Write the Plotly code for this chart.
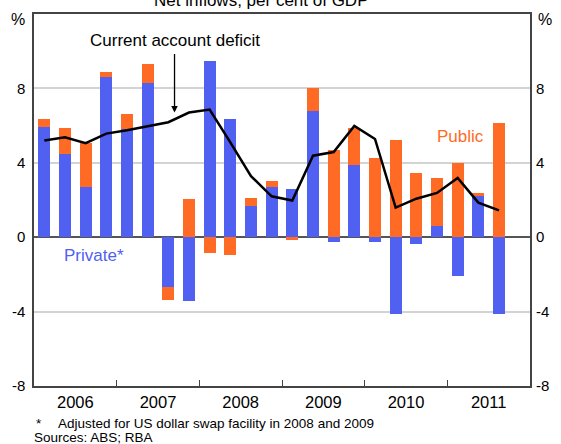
import plotly.graph_objects as go

quarters = ["2006Q1","2006Q2","2006Q3","2006Q4","2007Q1","2007Q2","2007Q3","2007Q4",
            "2008Q1","2008Q2","2008Q3","2008Q4","2009Q1","2009Q2","2009Q3","2009Q4",
            "2010Q1","2010Q2","2010Q3","2010Q4","2011Q1","2011Q2","2011Q3"]
private = [5.9, 4.5, 2.7, 8.6, 5.8, 8.3, -2.7, -3.45, 9.45, 6.35, 1.7, 2.7,
           2.6, 6.8, -0.25, 3.9, -0.25, -4.15, -0.35, 0.6, -2.1, 2.2, -4.15]
public = [0.45, 1.35, 2.35, 0.3, 0.8, 1.0, -0.67, 2.05, -0.85, -0.95, 0.4, 0.3,
          -0.15, 1.2, 4.7, 1.95, 4.25, 5.2, 3.45, 2.6, 4.0, 0.15, 6.15]
cad = [5.2, 5.37, 5.06, 5.57, 5.75, 5.97, 6.18, 6.7, 6.86, 5.1, 3.28, 2.2,
       1.97, 4.38, 4.58, 5.98, 5.28, 1.59, 2.07, 2.38, 3.19, 1.86, 1.44]
years = ["2006", "2007", "2008", "2009", "2010", "2011"]
yticks = [-8, -4, 0, 4, 8]

BLUE = "#5060F0"
ORANGE = "#FF6A24"
FONT = "Liberation Sans, Arial, sans-serif"

L, R, T, B = 34, 536, 14, 386

xpos = [i + 0.5 for i in range(len(quarters))]

fig = go.Figure()
fig.add_trace(go.Bar(x=xpos, y=private, marker_color=BLUE, width=0.57,
                     marker_line_width=0, name="Private*"))
fig.add_trace(go.Bar(x=xpos, y=public, marker_color=ORANGE, width=0.57,
                     marker_line_width=0, name="Public"))
fig.add_trace(go.Scatter(x=xpos, y=cad, mode="lines",
                         line=dict(color="black", width=2.5), name="CAD"))
fig.add_trace(go.Scatter(x=[0], y=[0], yaxis="y2", mode="markers",
                         marker=dict(opacity=0), showlegend=False, hoverinfo="skip"))

fig.update_layout(
    width=561, height=444,
    margin=dict(l=L, r=561 - R, t=T, b=444 - B),
    barmode="relative",
    bargap=0,
    showlegend=False,
    plot_bgcolor="white",
    paper_bgcolor="white",
    font=dict(family=FONT, size=15, color="black"),
    xaxis=dict(
        range=[0, 24],
        tickvals=[2 + 4 * i for i in range(len(years))],
        ticktext=years,
        ticks="", showgrid=False, zeroline=False,
        showline=True, linecolor="#444", linewidth=1.5, mirror=True,
        tickfont=dict(size=16.5),
        minor=dict(tickvals=[4, 8, 12, 16, 20], ticks="inside",
                   ticklen=6, tickcolor="#444", tickwidth=1.2, showgrid=False),
    ),
    yaxis=dict(
        range=[-8, 12],
        tickvals=yticks, ticktext=[str(v) for v in yticks],
        showgrid=True, gridcolor="#D3D3D3", gridwidth=1.5,
        zeroline=True, zerolinecolor="#555", zerolinewidth=2,
        showline=True, linecolor="#444", linewidth=1.5, mirror=True,
        ticks="", tickfont=dict(size=15), ticklabelstandoff=4,
    ),
    yaxis2=dict(
        range=[-8, 12], overlaying="y", side="right",
        tickvals=yticks, ticktext=[str(v) for v in yticks],
        showgrid=False, zeroline=False, showline=False, ticks="",
        tickfont=dict(size=15), ticklabelstandoff=5,
    ),
)

def px_x(px):
    return (px - L) / (R - L)

def px_y(py):
    return (B - py) / (B - T)

anns = [
    dict(text="Net inflows, per cent of GDP", x=px_x(264), y=1, xref="paper", yref="paper",
         xanchor="center", yanchor="bottom", yshift=2, showarrow=False,
         font=dict(size=17)),
    dict(text="%", x=px_x(18), y=px_y(20), xref="paper", yref="paper",
         xanchor="center", yanchor="middle", showarrow=False, font=dict(size=16)),
    dict(text="%", x=px_x(551), y=px_y(20), xref="paper", yref="paper",
         xanchor="center", yanchor="middle", showarrow=False, font=dict(size=16)),
    dict(text="Current account deficit", x=6.8, y=10.58, xref="x", yref="y",
         xanchor="center", yanchor="middle", showarrow=False, font=dict(size=17)),
    dict(text="", x=6.8, y=6.7, xref="x", yref="y", ax=0, ay=-60,
         showarrow=True, arrowhead=2, arrowsize=1, arrowwidth=1.3,
         arrowcolor="black", standoff=0),
    dict(text="Public", x=20.62, y=5.41, xref="x", yref="y",
         xanchor="center", yanchor="middle", showarrow=False,
         font=dict(size=17, color=ORANGE)),
    dict(text="Private*", x=2.9, y=-0.99, xref="x", yref="y",
         xanchor="center", yanchor="middle", showarrow=False,
         font=dict(size=17, color=BLUE)),
    dict(text="*", x=px_x(34), y=px_y(424), xref="paper", yref="paper",
         xanchor="left", yanchor="middle", showarrow=False, font=dict(size=13.5)),
    dict(text="Adjusted for US dollar swap facility in 2008 and 2009", x=px_x(56),
         y=px_y(424), xref="paper", yref="paper",
         xanchor="left", yanchor="middle", showarrow=False, font=dict(size=13.5)),
    dict(text="Sources: ABS; RBA", x=px_x(32), y=px_y(437), xref="paper", yref="paper",
         xanchor="left", yanchor="middle", showarrow=False, font=dict(size=13.5)),
]
fig.update_layout(annotations=anns)

fig.write_html("out.html",
               config={"displayModeBar": False},
               post_script="document.body.style.margin='0px';document.body.style.overflow='hidden';")
